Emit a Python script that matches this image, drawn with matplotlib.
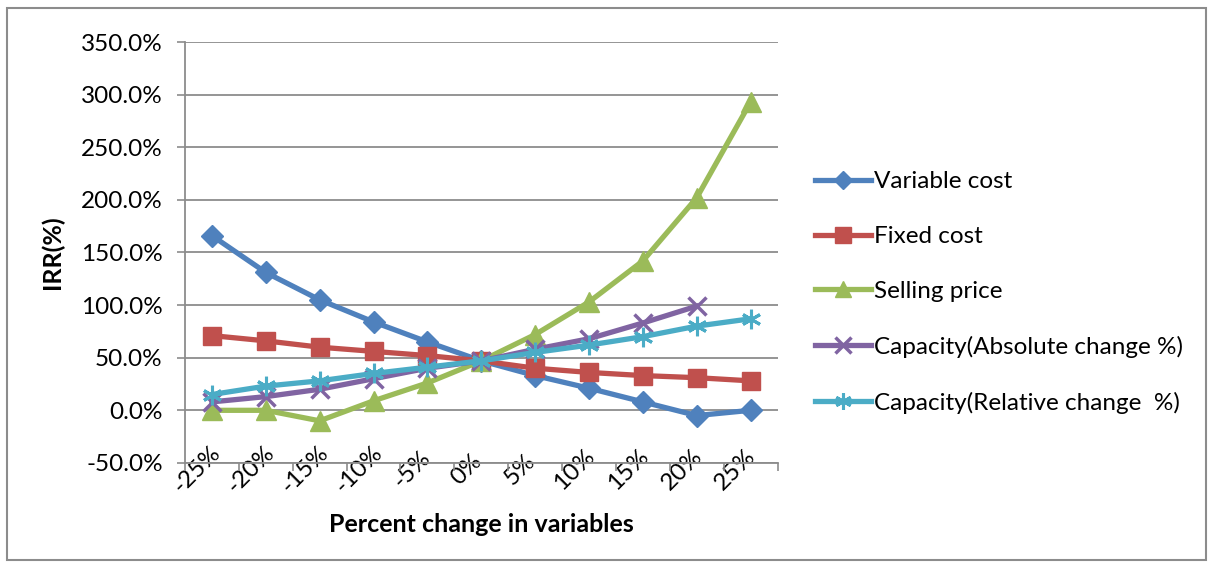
import matplotlib.pyplot as plt
from matplotlib.patches import Rectangle
from matplotlib.ticker import FuncFormatter, FixedLocator
from matplotlib.transforms import ScaledTranslation
import numpy as np

plt.rcParams['font.family'] = ['Lato', 'DejaVu Sans']

categories = ['-25%', '-20%', '-15%', '-10%', '-5%', '0%', '5%', '10%', '15%', '20%', '25%']
variable_cost = [166, 131, 105, 84, 65, 47, 33, 21, 8, -5, 0]
fixed_cost = [71, 66, 60, 56, 52, 47, 40, 36, 33, 31, 28]
selling_price = [0, 0, -10, 9, 26, 47, 72, 103, 142, 202, 293]
capacity_abs = [8, 13, 20, 30, 40, 47, 58, 68, 83, 99]
capacity_rel = [15, 23, 28, 35, 41, 47, 55, 62, 70, 80, 87]

fig = plt.figure(figsize=(12.13, 5.68), dpi=100)
ax = fig.add_axes([0.1525, 0.185, 0.4885, 0.741])

# outer chart border
fig.patches.append(Rectangle((0.006, 0.014), 0.988, 0.972, transform=fig.transFigure,
                             fill=False, edgecolor='#8c8c8c', linewidth=1.5))

x = np.arange(len(categories))
lw = 3.8
ax.plot(x, variable_cost, color='#4F81BD', lw=lw, marker='D', ms=11, label='Variable cost')
ax.plot(x, fixed_cost, color='#C0504D', lw=lw, marker='s', ms=13, label='Fixed cost')
ax.plot(x, selling_price, color='#9BBB59', lw=lw, marker='^', ms=14, label='Selling price')
ax.plot(x[:len(capacity_abs)], capacity_abs, color='#8064A2', lw=lw, marker='x', ms=13,
        mew=2.5, label='Capacity(Absolute change %)')
ax.plot(x, capacity_rel, color='#4BACC6', lw=lw, marker=(6, 2, 0), ms=14,
        mew=2.2, label='Capacity(Relative change  %)')

ax.set_ylim(-50, 350)
ax.set_yticks(np.arange(-50, 351, 50))
ax.yaxis.set_major_formatter(FuncFormatter(lambda v, p: f'{v:.1f}%'))
ax.set_xlim(-0.5, len(categories) - 0.5)
ax.set_xticks(x)
ax.set_xticklabels(categories, rotation=45, ha='center', va='center')
ax.xaxis.set_minor_locator(FixedLocator(np.arange(-0.5, len(categories), 1.0)))
ax.tick_params(axis='x', which='major', length=0, pad=4.5, labelsize=17.5)
ax.tick_params(axis='x', which='minor', length=6, color='#8c8c8c', width=1.2)
ax.tick_params(axis='y', length=6, color='#8c8c8c', width=1.2, labelsize=17.5, pad=10)

# Excel-style: rotated labels sit across the axis line, shifted left
# (done after tick_params, which resets the label transforms)
shift = ScaledTranslation(-0.15, 0, fig.dpi_scale_trans)
for lab in ax.get_xticklabels():
    lab.set_transform(lab.get_transform() + shift)

ax.grid(axis='y', color='#8c8c8c', linewidth=1.3)
ax.set_axisbelow(True)
for s in ['top', 'right']:
    ax.spines[s].set_visible(False)
for s in ['left', 'bottom']:
    ax.spines[s].set_color('#8c8c8c')
    ax.spines[s].set_linewidth(1.3)

ax.set_xlabel('Percent change in variables', fontsize=18, fontweight='bold', labelpad=12)
ax.set_ylabel('IRR(%)', fontsize=18, fontweight='bold', labelpad=12)

ax.legend(loc='center left', bbox_to_anchor=(1.026, 0.405), frameon=False, fontsize=17.5,
          labelspacing=1.39, handlelength=2.3, handletextpad=0.15, markerscale=0.85)

fig.savefig('out.png', dpi=100)
